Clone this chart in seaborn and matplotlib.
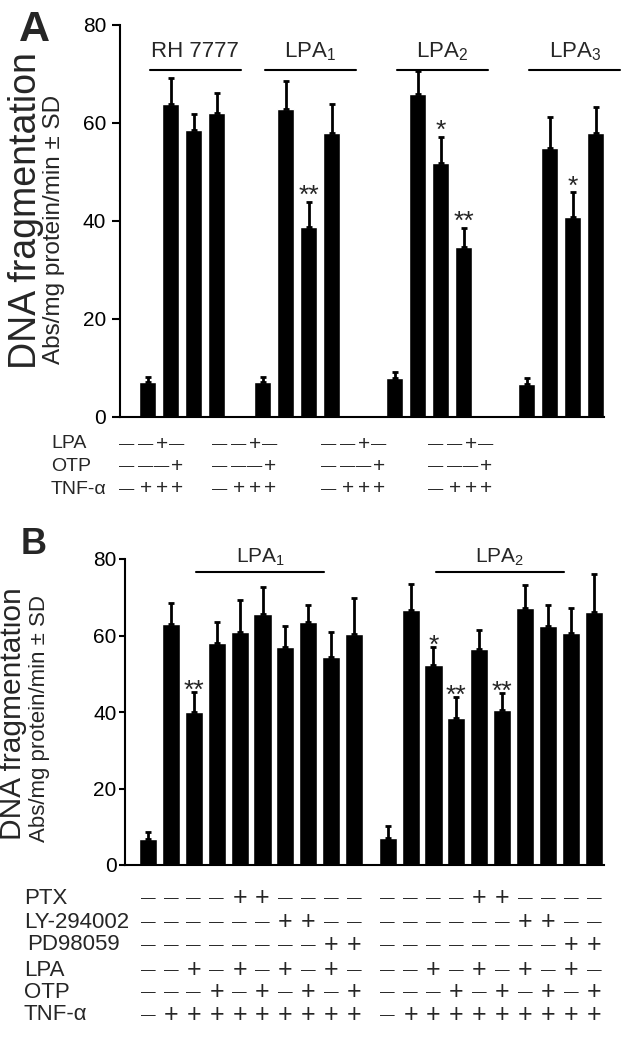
import matplotlib
matplotlib.use("Agg")
import matplotlib.pyplot as plt
import matplotlib.transforms as mtransforms
import numpy as np
import pandas as pd
import seaborn as sns

# ---------------- dados do painel A ----------------
grupos_a = ["RH 7777", "LPA$_1$", "LPA$_2$", "LPA$_3$"]
media_a = [7.2, 63.9, 58.6, 62.0,
           7.2, 62.9, 38.8, 58.0,
           8.0, 65.9, 51.8, 34.7,
           6.8, 54.9, 40.8, 58.0]
dp_a = [1.0, 5.3, 3.2, 4.1,
        1.0, 5.7, 5.1, 5.9,
        1.2, 4.7, 5.4, 3.9,
        1.2, 6.3, 5.1, 5.3]
sig_a = ["", "", "", "",
         "", "", "**", "",
         "", "", "*", "**",
         "", "", "*", ""]
tabela_a_rotulos = ["LPA", "OTP", "TNF-α"]
lpa_a = ["-", "-", "+", "-"]
otp_a = ["-", "-", "-", "+"]
tnf_a = ["-", "+", "+", "+"]

# ---------------- dados do painel B ----------------
grupos_b = ["LPA$_1$", "LPA$_2$"]
media_b = [6.8, 62.9, 40.0, 58.0, 60.8, 65.5, 57.0, 63.5, 54.5, 60.5,
           7.1, 66.6, 52.2, 38.4, 56.4, 40.5, 67.1, 62.4, 60.6, 66.1]
dp_b = [1.8, 5.5, 5.2, 5.4, 8.4, 7.1, 5.4, 4.4, 6.5, 9.2,
        3.1, 6.8, 4.7, 5.5, 5.0, 4.4, 6.0, 5.7, 6.5, 9.9]
sig_b = ["", "", "**", "", "", "", "", "", "", "",
         "", "", "*", "**", "", "**", "", "", "", ""]
tabela_b_rotulos = ["PTX", "LY-294002", "PD98059", "LPA", "OTP", "TNF-α"]
ptx_b = ["-", "-", "-", "-", "+", "+", "-", "-", "-", "-"]
ly_b = ["-", "-", "-", "-", "-", "-", "+", "+", "-", "-"]
pd_b = ["-", "-", "-", "-", "-", "-", "-", "-", "+", "+"]
lpa_b = ["-", "-", "+", "-", "+", "-", "+", "-", "+", "-"]
otp_b = ["-", "-", "-", "+", "-", "+", "-", "+", "-", "+"]
tnf_b = ["-", "+", "+", "+", "+", "+", "+", "+", "+", "+"]

# ---------------- layout ----------------
sns.set_theme(style="ticks")
plt.rcParams["font.family"] = ["Liberation Sans", "DejaVu Sans"]
plt.rcParams["mathtext.default"] = "regular"

W, H = 638, 1050
fig = plt.figure(figsize=(W / 100, H / 100), dpi=100)
fig.patch.set_facecolor("white")


def caixa(x0, y0, x1, y1):
    return [x0 / W, 1 - y1 / H, (x1 - x0) / W, (y1 - y0) / H]


def px(x, y):
    return x / W, 1 - y / H


def simbolo(s):
    return ("\u2014", "dash") if s == "-" else ("+", "plus")


# deslocamento de cada grupo (em larguras de barra)
inicio_a = [0, 5, 10.75, 16.5]
inicio_b = [0, 10.46]

pos_a = [inicio_a[g] + i for g in range(4) for i in range(4)]
pos_b = [inicio_b[g] + i for g in range(2) for i in range(10)]

df_a = pd.DataFrame({"pos": pos_a, "media": media_a, "dp": dp_a})
df_b = pd.DataFrame({"pos": pos_b, "media": media_b, "dp": dp_b})

ax_a = fig.add_axes(caixa(120, 25, 604, 417))
ax_b = fig.add_axes(caixa(125, 559, 604, 865))


def desenhar(ax, df, sig, largura, xlim, tick_len, pad, off_ast):
    sns.barplot(data=df, x="pos", y="media", native_scale=True, width=largura,
                color="black", saturation=1, errorbar=None, ax=ax)
    ax.errorbar(df["pos"], df["media"], yerr=[np.zeros(len(df)), df["dp"]],
                fmt="none", ecolor="black", elinewidth=2, capsize=2.5,
                capthick=2)
    for x, m, d, s in zip(df["pos"], df["media"], df["dp"], sig):
        if s:
            ax.annotate(s, xy=(x, m + d), xytext=(0, off_ast),
                        textcoords="offset points", ha="center",
                        va="baseline", fontsize=19)
    ax.set_xlim(*xlim)
    ax.set_ylim(0, 80)
    ax.set_xticks([])
    ax.set_yticks([0, 20, 40, 60, 80])
    ax.set_xlabel("")
    ax.set_ylabel("")
    ax.tick_params(axis="y", labelsize=15, length=tick_len, width=1.5,
                   pad=pad, colors="black")
    sns.despine(ax=ax)
    for lado in ["left", "bottom"]:
        ax.spines[lado].set_linewidth(1.5)
        ax.spines[lado].set_color("black")
    ax.set_facecolor("white")


desenhar(ax_a, df_a, sig_a, 0.74, (-1.2, 19.85), 6, 4, -1)
desenhar(ax_b, df_b, sig_b, 0.79, (-1.0, 19.9), 4, 2, -4)

# rótulos de grupo com linha
for g, nome in enumerate(grupos_a):
    x0, x1 = inicio_a[g] + 0.1, inicio_a[g] + 4.05
    ax_a.plot([x0, x1], [70.8, 70.8], color="black", lw=1.5, clip_on=False)
    ax_a.text((x0 + x1) / 2, 74.6, nome, ha="center", va="center",
              fontsize=16)

for g, nome in enumerate(grupos_b):
    x0, x1 = inicio_b[g] + 2.1, inicio_b[g] + 7.7
    ax_b.plot([x0, x1], [76.5, 76.5], color="black", lw=1.5, clip_on=False)
    ax_b.text((x0 + x1) / 2, 80.4, nome, ha="center", va="center",
              fontsize=15, clip_on=False)

# letras e rótulos do eixo y (ancorados na linha de base)
fig.text(*px(19, 10), "A", fontsize=31, fontweight="bold", ha="left", va="top")
fig.text(*px(21, 527), "B", fontsize=26, fontweight="bold", ha="left", va="top")
rotulos_y = [("DNA fragmentation", 36, 211, 27),
             ("Abs/mg protein/min ± SD", 60, 229, 17.5),
             ("DNA fragmentation", 21, 714, 21.5),
             ("Abs/mg protein/min ± SD", 45, 718, 16)]
for texto, xb, yc, tam in rotulos_y:
    fig.text(*px(xb, yc), texto, rotation=90, rotation_mode="anchor",
             fontsize=tam, ha="center", va="baseline")

# tabela do painel A (posições em pixels, não alinhada às barras)
linhas_a = [lpa_a, otp_a, tnf_a]
y_a = [444, 466, 489]
sx_a = [127, 220, 329, 436]
col_a = [0, 19, 35, 50]
for rot, yy in zip(tabela_a_rotulos, y_a):
    fig.text(*px(51, yy), rot, fontsize=14, ha="left", va="center")
for linha, yy in zip(linhas_a, y_a):
    for x0 in sx_a:
        for dx, s in zip(col_a, linha):
            ch, tipo = simbolo(s)
            fig.text(*px(x0 + dx, yy), ch,
                     fontsize=11 if tipo == "dash" else 15,
                     ha="center", va="center")

# tabela do painel B (alinhada às barras)
linhas_b = [ptx_b, ly_b, pd_b, lpa_b, otp_b, tnf_b]
y_b = [898, 922, 945, 970, 992, 1015]
x_rot_b = [24, 24, 27, 24, 24, 24]
trans_b = mtransforms.blended_transform_factory(ax_b.transData, fig.transFigure)
for rot, xx, yy in zip(tabela_b_rotulos, x_rot_b, y_b):
    fig.text(*px(xx, yy), rot, fontsize=16, ha="left", va="center")
for linha, yy in zip(linhas_b, y_b):
    for g in range(2):
        for i, s in enumerate(linha):
            ch, tipo = simbolo(s)
            fig.text(inicio_b[g] + i, 1 - yy / H, ch, transform=trans_b,
                     fontsize=10.5 if tipo == "dash" else 18,
                     ha="center", va="center")

fig.savefig("out.png", dpi=100, facecolor="white")
plt.close(fig)
